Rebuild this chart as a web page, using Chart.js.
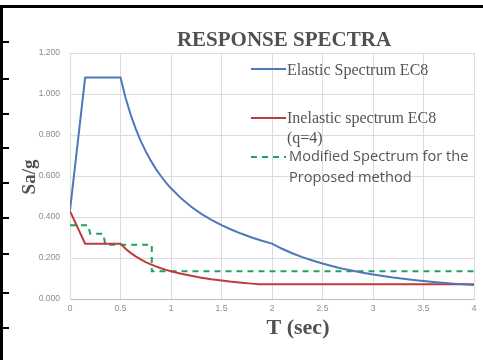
<!DOCTYPE html>
<html><head><meta charset="utf-8">
<script src="https://cdn.jsdelivr.net/npm/chart.js@4"></script>
<style>html,body{margin:0;padding:0;background:#fff;}#wrap{width:483px;height:360px;position:relative;}</style>
</head><body><div id="wrap"><canvas id="c" width="483" height="360"></canvas></div>
<script>
// Data
const elasticT  = [0, 0.15, 0.5, 0.55, 0.6, 0.65, 0.7, 0.75, 0.8, 0.85, 0.9, 0.95, 1.0, 1.1, 1.2, 1.3, 1.4, 1.5, 1.6, 1.7, 1.8, 1.9, 2.0, 2.1, 2.2, 2.3, 2.4, 2.5, 2.6, 2.7, 2.8, 2.9, 3.0, 3.2, 3.4, 3.6, 3.8, 4.0];
const elasticSa = [0.432, 1.08, 1.08, 0.982, 0.90, 0.831, 0.771, 0.72, 0.675, 0.635, 0.60, 0.568, 0.54, 0.491, 0.45, 0.415, 0.386, 0.36, 0.338, 0.318, 0.30, 0.284, 0.27, 0.245, 0.223, 0.204, 0.188, 0.173, 0.160, 0.148, 0.138, 0.128, 0.12, 0.105, 0.093, 0.083, 0.075, 0.068];
const inelasticT  = [0, 0.15, 0.5, 0.55, 0.6, 0.65, 0.7, 0.75, 0.8, 0.85, 0.9, 0.95, 1.0, 1.1, 1.2, 1.3, 1.4, 1.5, 1.6, 1.7, 1.8, 1.875, 4.0];
const inelasticSa = [0.428, 0.27, 0.27, 0.245, 0.225, 0.208, 0.193, 0.18, 0.169, 0.159, 0.15, 0.142, 0.135, 0.123, 0.113, 0.104, 0.096, 0.09, 0.084, 0.079, 0.075, 0.072, 0.072];
const modT  = [0, 0.18, 0.20, 0.33, 0.35, 0.81, 0.81, 4.0];
const modSa = [0.36, 0.36, 0.318, 0.318, 0.265, 0.265, 0.135, 0.135];
const xTicksStep = 0.5;
const yTicksStep = 0.2;
const seriesNames = ["Elastic Spectrum EC8", "Inelastic spectrum EC8", "(q=4)", "Modified Spectrum for the", "Proposed method"];
const titleText = "RESPONSE SPECTRA";
const xTitle = "T (sec)";
const yTitle = "Sa/g";

const BLUE = '#4d78bb', RED = '#bf3b3e', GREEN = '#1fa35a';
const pts = (xs, ys) => xs.map((x, i) => ({x: x, y: ys[i]}));

const deco = {
  id: 'deco',
  afterDraw(chart) {
    const ctx = chart.ctx;
    ctx.save();
    // frame
    ctx.fillStyle = '#000';
    ctx.fillRect(0, 5, 483, 3);
    ctx.fillRect(0, 5, 3, 355);
    [41, 78, 113, 147, 182, 217, 253, 292, 327].forEach(y => ctx.fillRect(0, y, 9, 2));
    // title
    ctx.fillStyle = '#505050';
    ctx.font = 'bold 21px "Liberation Serif"';
    ctx.textAlign = 'center'; ctx.textBaseline = 'middle';
    ctx.fillText(titleText, 284, 41);
    // x title
    ctx.font = 'bold 22px "Liberation Serif"';
    ctx.fillText(xTitle, 298, 328);
    // y title
    ctx.save();
    ctx.translate(30, 177); ctx.rotate(-Math.PI / 2);
    ctx.font = 'bold 19px "Liberation Serif"';
    ctx.fillText(yTitle, 0, 0);
    ctx.restore();
    // legend
    ctx.textAlign = 'left';
    ctx.lineWidth = 2;
    ctx.strokeStyle = BLUE; ctx.beginPath(); ctx.moveTo(251, 69); ctx.lineTo(286, 69); ctx.stroke();
    ctx.strokeStyle = RED; ctx.beginPath(); ctx.moveTo(251, 118); ctx.lineTo(286, 118); ctx.stroke();
    ctx.strokeStyle = GREEN; ctx.setLineDash([6, 5]); ctx.beginPath(); ctx.moveTo(251, 157); ctx.lineTo(286, 157); ctx.stroke();
    ctx.setLineDash([]);
    ctx.fillStyle = '#555';
    ctx.font = '16px "Liberation Serif"';
    ctx.fillText(seriesNames[0], 287, 71);
    ctx.fillText(seriesNames[1], 287, 119);
    ctx.fillText(seriesNames[2], 287, 139);
    ctx.font = '14.6px "Open Sans"';
    ctx.fillText(seriesNames[3], 289, 157);
    ctx.fillText(seriesNames[4], 289, 178);
    ctx.restore();
  }
};

new Chart(document.getElementById('c'), {
  type: 'scatter',
  data: {
    datasets: [
      {label: seriesNames[0], data: pts(elasticT, elasticSa), showLine: true, borderColor: BLUE, borderWidth: 2, pointRadius: 0, tension: 0, fill: false},
      {label: seriesNames[1], data: pts(inelasticT, inelasticSa), showLine: true, borderColor: RED, borderWidth: 2, pointRadius: 0, tension: 0, fill: false},
      {label: seriesNames[3], data: pts(modT, modSa), showLine: true, borderColor: GREEN, borderWidth: 2, borderDash: [6, 5], pointRadius: 0, tension: 0, fill: false}
    ]
  },
  options: {
    responsive: false, devicePixelRatio: 1, animation: false,
    layout: {padding: {top: 53, right: 9, left: 0, bottom: 0}},
    plugins: {legend: {display: false}, title: {display: false}, tooltip: {enabled: false}},
    scales: {
      x: {
        type: 'linear', min: 0, max: 4,
        ticks: {stepSize: xTicksStep, color: '#8c8c8c', font: {family: 'Liberation Sans', size: 8.5}, padding: 5, maxRotation: 0, callback: v => String(Math.round(v * 10) / 10)},
        grid: {color: '#dcdcdc', drawTicks: false},
        border: {color: '#bdbdbd', width: 1},
        afterFit(s) { s.height = 61; }
      },
      y: {
        min: 0, max: 1.2,
        ticks: {stepSize: yTicksStep, color: '#8c8c8c', font: {family: 'Liberation Sans', size: 8.5}, padding: 10, callback: v => v.toFixed(3)},
        grid: {color: '#dcdcdc', drawTicks: false},
        border: {color: '#dcdcdc'},
        afterFit(s) { s.width = 70; }
      }
    }
  },
  plugins: [deco]
});
</script></body></html>
